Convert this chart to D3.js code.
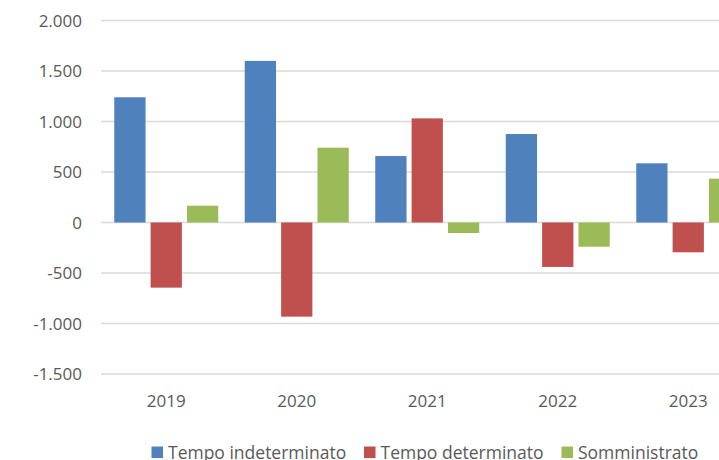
<!DOCTYPE html>
<html>
<head>
<meta charset="utf-8">
<script src="https://cdn.jsdelivr.net/npm/d3@7"></script>
<style>
  body { margin: 0; background: #fff; overflow: hidden; }
  text { font-family: "Open Sans", sans-serif; fill: #595959; }
</style>
</head>
<body>
<div id="chart"></div>
<script>
var years = ["2019", "2020", "2021", "2022", "2023"];
var series = ["Tempo indeterminato", "Tempo determinato", "Somministrato"];
var indeterminato = [1240, 1600, 658, 876, 586];
var determinato = [-645, -932, 1031, -440, -295];
var somministrato = [166, 741, -104, -240, 434];
var yTicks = [-1500, -1000, -500, 0, 500, 1000, 1500, 2000];

var colors = ["#4F81BD", "#C0504D", "#9BBB59"];
var w = 719, h = 460;
var plotLeft = 101, plotTop = 20.5, plotBottom = 374;
var step = 130.5; // width of one year band

var svg = d3.select("#chart").append("svg")
    .attr("width", w)
    .attr("height", h);

var x = d3.scaleBand()
    .domain(years)
    .range([plotLeft, plotLeft + step * years.length])
    .paddingInner(0)
    .paddingOuter(0);

var y = d3.scaleLinear()
    .domain([-1500, 2000])
    .range([plotBottom, plotTop]);

// italian style: dot for thousands, plain hyphen for minus
var fmt = function(d) {
    return d3.format(",")(d).replace(/,/g, ".").replace("\u2212", "-");
};

// gridlines
svg.append("g")
    .selectAll("line")
    .data(yTicks)
    .enter().append("line")
        .attr("x1", plotLeft)
        .attr("x2", w)
        .attr("y1", function(d) { return y(d); })
        .attr("y2", function(d) { return y(d); })
        .attr("stroke", "#d9d9d9")
        .attr("stroke-width", 1.5);

// y labels
svg.append("g")
    .selectAll("text")
    .data(yTicks)
    .enter().append("text")
        .attr("x", 82)
        .attr("y", function(d) { return y(d); })
        .attr("dy", "0.36em")
        .attr("text-anchor", "end")
        .attr("font-size", 17)
        .text(fmt);

// bars
var inner = d3.scaleBand()
    .domain(series)
    .range([13.25, step - 13.25])
    .paddingInner(0.14);

var rows = years.map(function(yr, i) {
    return { year: yr, vals: [indeterminato[i], determinato[i], somministrato[i]] };
});

var groups = svg.append("g")
    .selectAll("g")
    .data(rows)
    .enter().append("g")
        .attr("transform", function(d) { return "translate(" + x(d.year) + ",0)"; });

groups.selectAll("rect")
    .data(function(d) { return d.vals.map(function(v, i) { return { key: series[i], v: v, i: i }; }); })
    .enter().append("rect")
        .attr("x", function(d) { return inner(d.key); })
        .attr("width", inner.bandwidth())
        .attr("y", function(d) { return y(Math.max(0, d.v)); })
        .attr("height", function(d) { return Math.abs(y(d.v) - y(0)); })
        .attr("fill", function(d) { return colors[d.i]; });

// x labels
svg.append("g")
    .selectAll("text")
    .data(years)
    .enter().append("text")
        .attr("x", function(d) { return x(d) + x.bandwidth() / 2; })
        .attr("y", 406.5)
        .attr("text-anchor", "middle")
        .attr("font-size", 17)
        .text(function(d) { return d; });

// legend
var legX = [151.5, 364, 561.5];
var legend = svg.append("g")
    .selectAll("g")
    .data(series)
    .enter().append("g")
        .attr("transform", function(d, i) { return "translate(" + legX[i] + ",446.5)"; });
legend.append("rect")
    .attr("width", 11.5)
    .attr("height", 11.5)
    .attr("fill", function(d, i) { return colors[i]; });
legend.append("text")
    .attr("x", 16.5)
    .attr("y", 12.5)
    .attr("font-size", 17.5)
    .text(function(d) { return d; });
</script>
</body>
</html>
